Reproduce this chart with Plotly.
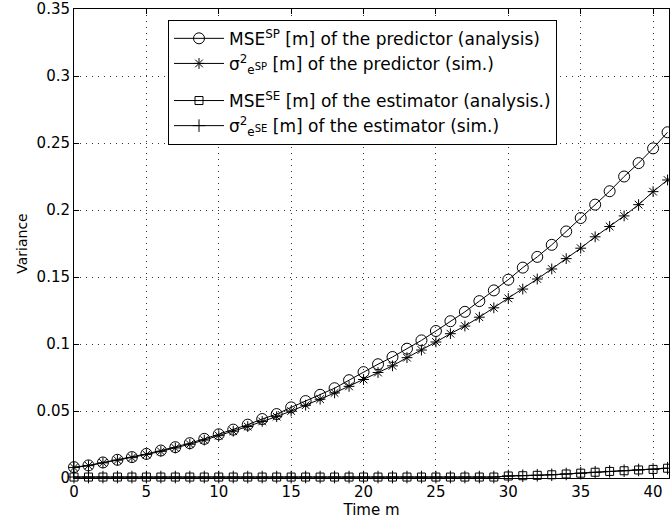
import plotly.graph_objects as go

m = list(range(0, 42))

mse_sp = [0.0081, 0.0094, 0.0116, 0.0136, 0.0156, 0.0180, 0.0205, 0.0230, 0.0260, 0.0292,
          0.0326, 0.0361, 0.0398, 0.0440, 0.0477, 0.0527, 0.0574, 0.0621, 0.0670, 0.0730,
          0.0790, 0.0849, 0.0903, 0.0965, 0.1027, 0.1097, 0.1170, 0.1240, 0.1320, 0.1400,
          0.1480, 0.1570, 0.1650, 0.1740, 0.1840, 0.1940, 0.2040, 0.2140, 0.2250, 0.2350,
          0.2460, 0.2580]

sim_sp = [0.0078, 0.0092, 0.0113, 0.0133, 0.0152, 0.0175, 0.0199, 0.0224, 0.0252, 0.0283,
          0.0316, 0.0349, 0.0384, 0.0422, 0.0458, 0.0500, 0.0543, 0.0588, 0.0635, 0.0684,
          0.0735, 0.0787, 0.0837, 0.0898, 0.0955, 0.1015, 0.1077, 0.1134, 0.1200, 0.1270,
          0.1340, 0.1410, 0.1485, 0.1560, 0.1637, 0.1715, 0.1800, 0.1877, 0.1956, 0.2040,
          0.2137, 0.2224]

mse_se = [0.0007] * 30 + [0.0015, 0.0017, 0.0020, 0.0024, 0.0030, 0.0036, 0.0043, 0.0049,
                          0.0054, 0.0060, 0.0064, 0.0073]

sim_se = [0.0007] * 30 + [0.0015, 0.0017, 0.0020, 0.0024, 0.0030, 0.0036, 0.0043, 0.0049,
                          0.0054, 0.0060, 0.0064, 0.0073]

names = [
    "MSE<sup>SP</sup> [m] of the predictor (analysis)",
    "σ<sup>2</sup><sub>e</sub><span style='font-size:10px'>SP</span> [m] of the predictor (sim.)",
    "MSE<sup>SE</sup> [m] of the estimator (analysis.)",
    "σ<sup>2</sup><sub>e</sub><span style='font-size:10px'>SE</span> [m] of the estimator (sim.)",
]

x_ticks = [0, 5, 10, 15, 20, 25, 30, 35, 40]
y_ticks = [0, 0.05, 0.1, 0.15, 0.2, 0.25, 0.3, 0.35]
y_tick_text = ["0", "0.05", "0.1", "0.15", "0.2", "0.25", "0.3", "0.35"]

series = [
    (mse_sp, "circle-open", 11, "pred"),
    (sim_sp, "asterisk-open", 9, "pred"),
    (mse_se, "square-open", 8, "est"),
    (sim_se, "cross-thin-open", 9, "est"),
]

FONT = "DejaVu Sans, Arial, sans-serif"

fig = go.Figure()
for (vals, sym, sz, grp), nm in zip(series, names):
    fig.add_trace(go.Scatter(
        x=m, y=vals, name=nm, mode="lines+markers",
        line=dict(color="black", width=1),
        marker=dict(symbol=sym, size=sz, color="black", line=dict(color="black", width=1)),
        legendgroup=grp, cliponaxis=False,
    ))

grid = dict(showgrid=True, gridcolor="#333", griddash="1px,5px", gridwidth=1)

fig.update_layout(
    width=670, height=525,
    margin=dict(l=74, r=0, t=7, b=47),
    paper_bgcolor="white", plot_bgcolor="white",
    font=dict(family=FONT, size=15, color="black"),
    showlegend=True,
    legend=dict(
        x=0.158, y=0.977, xanchor="left", yanchor="top",
        bgcolor="white", bordercolor="black", borderwidth=1,
        font=dict(family=FONT, size=17), traceorder="grouped", tracegroupgap=12,
        itemwidth=50,
    ),
    xaxis=dict(
        range=[0, 41.1], tickvals=x_ticks, ticktext=[str(v) for v in x_ticks],
        showline=True, linecolor="black", linewidth=1, mirror="allticks",
        ticks="inside", ticklen=5, tickcolor="black", ticklabeloverflow="allow",
        zeroline=False, **grid,
        title=dict(text="Time m", standoff=4, font=dict(size=15)),
    ),
    yaxis=dict(
        range=[0, 0.35], tickvals=y_ticks, ticktext=y_tick_text,
        showline=True, linecolor="black", linewidth=1, mirror="allticks",
        ticks="inside", ticklen=5, tickcolor="black", ticklabeloverflow="allow",
        zeroline=False, **grid,
        title=dict(text="Variance", standoff=5, font=dict(size=14)),
    ),
)

fig.write_html("out.html")
